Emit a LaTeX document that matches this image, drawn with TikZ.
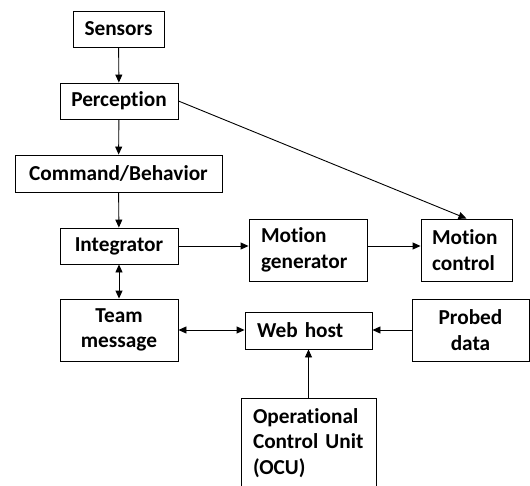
\documentclass[tikz,border=0pt]{standalone}
\usepackage{fontspec}
\setmainfont{Carlito}[Ligatures=NoCommon, WordSpace=0.75]
\usetikzlibrary{arrows.meta}
\tikzset{
  block/.style={draw, line width=0.9pt, inner sep=0pt, align=center,
    font=\fontsize{21.3}{25.5}\selectfont\bfseries},
  lblock/.style={block, align=left, inner xsep=12pt},
  link/.style={line width=0.9pt, -{Triangle[length=8pt,width=7pt]}},
  dlink/.style={line width=0.9pt, {Triangle[length=8pt,width=7pt]}-{Triangle[length=8pt,width=7pt]}},
}
\begin{document}
\begin{tikzpicture}[x=1pt,y=-1pt]
			\useasboundingbox (0,0) rectangle (530,485);
			
			\node[block, minimum width=91pt, minimum height=36pt] (sensors) at (118.5,29) {Sensors};
			\node[block, minimum width=118pt, minimum height=36pt] (perception) at (119,101) {Perception};
			\node[block, minimum width=207pt, minimum height=37pt] (command) at (118.5,173.5) {Command/Behavior};
			\node[block, minimum width=118pt, minimum height=36pt] (integrator) at (119,246) {Integrator};
			\node[block, minimum width=118pt, minimum height=62pt] (team) at (119,330) {Team\\message};
			
			\node[lblock, text width=94pt, minimum height=62pt] (motiongen) at (308,250) {Motion\\generator};
			\node[lblock, inner xsep=11pt, text width=69pt, minimum height=62pt] (motionctrl) at (466.5,250) {Motion\\control};
			
			\node[lblock, text width=103pt, minimum height=37pt] (webhost) at (308.5,330.5) {Web host};
			\node[block, minimum width=117pt, minimum height=62pt] (probed) at (470.5,330) {Probed\\data};
			\node[lblock, inner ysep=10pt, text width=111pt, anchor=north] (ocu) at (308.5,398) {Operational\\Control Unit\\(OCU)};
			
			\foreach \from/\to in {sensors/perception,perception/command,command/integrator,ocu/webhost}
			\draw[link] (\from) -- (\to);
			\draw[link] (perception.east) -- (motionctrl.north);
			\draw[link] (integrator.east) -- (integrator.east -| motiongen.west);
			\draw[link] (motiongen.east |- integrator.east) -- (motionctrl.west |- integrator.east);
			\draw[link] (probed.west) -- (probed.west -| webhost.east);
			\draw[dlink] (integrator) -- (team);
			\draw[dlink] (team.east) -- (team.east -| webhost.west);
		\end{tikzpicture}
\end{document}
